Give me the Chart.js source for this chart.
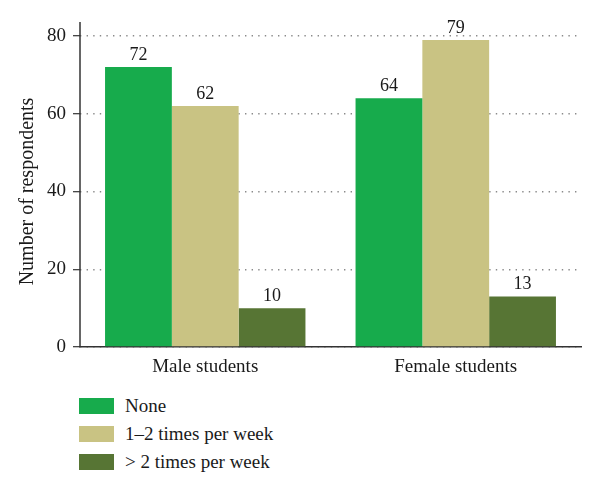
<!DOCTYPE html>
<html>
<head>
<meta charset="utf-8">
<script src="https://cdn.jsdelivr.net/npm/chart.js@4.4.0/dist/chart.umd.min.js"></script>
<style>
  html, body { margin: 0; padding: 0; background: #fff; }
  #wrap { position: relative; width: 600px; height: 492px; }
  #c { position: absolute; left: 0; top: 0; }
  #legend { position: absolute; left: 79px; top: 392px; font-family: "Liberation Serif", "DejaVu Serif", serif; font-size: 19px; color: #1a1a1a; }
  .item { display: flex; align-items: center; height: 28px; }
  .box { width: 35px; height: 16px; margin-right: 11px; }
</style>
</head>
<body>
<div id="wrap">
  <canvas id="c" width="600" height="385"></canvas>
  <div id="legend"></div>
</div>
<script>
const categories = ["Male students", "Female students"];
const seriesNames = ["None", "1\u20132 times per week", "> 2 times per week"];
const noneValues = [72, 64];
const onceTwiceValues = [62, 79];
const moreValues = [10, 13];
const yTicks = [0, 20, 40, 60, 80];
const colors = ["#17ab4c", "#c9c383", "#577534"];

const FONT = "'Liberation Serif', 'DejaVu Serif', serif";

const valueLabels = {
  id: 'valueLabels',
  afterDatasetsDraw(chart) {
    const ctx = chart.ctx;
    ctx.save();
    ctx.font = "18px " + FONT;
    ctx.fillStyle = "#1a1a1a";
    ctx.textAlign = "center";
    ctx.textBaseline = "alphabetic";
    chart.data.datasets.forEach((ds, i) => {
      chart.getDatasetMeta(i).data.forEach((bar, j) => {
        ctx.fillText(String(ds.data[j]), bar.x, bar.y - 7);
      });
    });
    ctx.restore();
  }
};

// solid vertical axis line (grid lines use the dotted border dash)
const yAxisLine = {
  id: 'yAxisLine',
  afterDraw(chart) {
    const a = chart.chartArea;
    const ctx = chart.ctx;
    ctx.save();
    ctx.setLineDash([]);
    ctx.strokeStyle = "#333";
    ctx.lineWidth = 1.5;
    ctx.beginPath();
    ctx.moveTo(a.left, chart.scales.y.top - 14);
    ctx.lineTo(a.left, a.bottom);
    ctx.stroke();
    ctx.restore();
  }
};

const chart = new Chart(document.getElementById('c'), {
  type: 'bar',
  data: {
    labels: categories,
    datasets: [
      { label: seriesNames[0], data: noneValues, backgroundColor: colors[0] },
      { label: seriesNames[1], data: onceTwiceValues, backgroundColor: colors[1] },
      { label: seriesNames[2], data: moreValues, backgroundColor: colors[2] }
    ]
  },
  options: {
    responsive: false,
    animation: false,
    layout: { padding: { top: 36, right: 19, left: 0, bottom: 0 } },
    datasets: { bar: { categoryPercentage: 0.8, barPercentage: 1.0 } },
    plugins: { legend: { display: false }, tooltip: { enabled: false } },
    scales: {
      x: {
        grid: { display: false, drawTicks: false },
        border: { display: true, color: "#333", width: 1.5 },
        ticks: { color: "#1a1a1a", font: { family: FONT, size: 19 }, padding: 9 },
        afterFit(scale) { scale.height = 38; }
      },
      y: {
        min: 0, max: 80,
        afterBuildTicks(scale) { scale.ticks = yTicks.map(v => ({ value: v })); },
        grid: {
          color: "#8a8a8a",
          lineWidth: 1.4,
          tickLength: 7,
          tickColor: "#333",
          tickBorderDash: [],
          tickWidth: 1.2
        },
        border: { display: false, dash: [1.4, 5.2] },
        ticks: { color: "#1a1a1a", font: { family: FONT, size: 19 }, padding: 7 },
        title: { display: true, text: "Number of respondents", color: "#1a1a1a", font: { family: FONT, size: 20 }, padding: { top: 16, bottom: 0 } },
        afterFit(scale) { scale.width = 80; }
      }
    }
  },
  plugins: [valueLabels, yAxisLine]
});

const legendEl = document.getElementById('legend');
chart.data.datasets.forEach(ds => {
  const item = document.createElement('div');
  item.className = 'item';
  const box = document.createElement('span');
  box.className = 'box';
  box.style.background = ds.backgroundColor;
  const txt = document.createElement('span');
  txt.textContent = ds.label;
  item.appendChild(box);
  item.appendChild(txt);
  legendEl.appendChild(item);
});
</script>
</body>
</html>
